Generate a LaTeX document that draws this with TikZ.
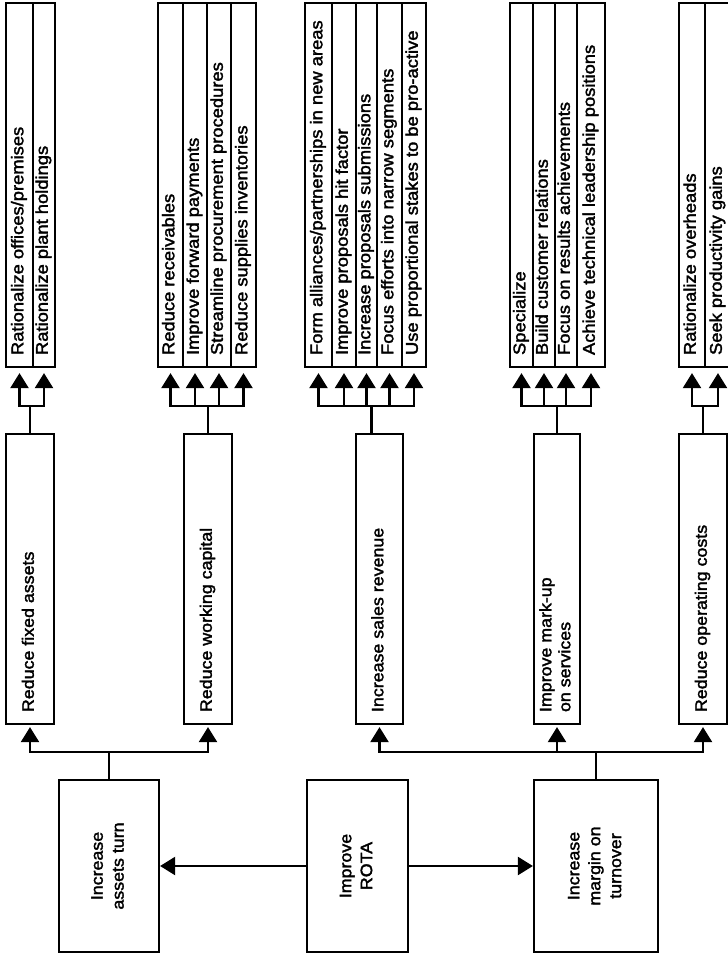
\documentclass[tikz,border=0pt]{standalone}
\usepackage{fontspec}
\setmainfont{Liberation Sans}[FakeStretch=1.08,FakeBold=2]
\usepackage{graphicx}
\usetikzlibrary{arrows.meta}
\newcommand\coltxt[1]{\rotatebox{90}{\fontsize{17}{19}\selectfont\makebox[340pt][l]{\strut #1}}}
\newcommand\midtxt[1]{\rotatebox{90}{\parbox{266pt}{\raggedright\strut #1\strut}}}
\newcommand\maintxt[1]{\rotatebox{90}{\def\arraystretch{1.1}\begin{tabular}{@{}c@{}}#1\end{tabular}}}
\begin{document}
\begin{tikzpicture}[x=1pt,y=-1pt,
  bx/.style={draw,line width=2.2pt,inner sep=0pt,minimum width=#1},
  mainbox/.style={bx=#1,minimum height=172pt},
  midbox/.style={bx=#1,minimum height=290pt},
  colbox/.style={bx=#1,minimum height=364pt},
  ln/.style={line width=2.2pt},
  arr/.style={ln,-{Triangle[length=15pt,width=18pt]}},
  every node/.style={font=\fontsize{16.5}{19}\selectfont}]
\fill[white] (0,0) rectangle (728,956);
\useasboundingbox (0,0) rectangle (728,956);
\clip (0,0) rectangle (728,956);

% main boxes
\node[mainbox=100pt] (assets) at (109,866) {\maintxt{Increase\\assets turn}};
\node[mainbox=101pt] (rota) at (357.5,866) {\maintxt{Improve\\ROTA}};
\node[mainbox=124pt] (margin) at (596,866) {\maintxt{Increase\\margin on\\turnover}};

% middle boxes
\node[midbox=48pt] (fixed) at (30,579) {\midtxt{Reduce fixed assets}};
\node[midbox=48pt] (working) at (208,579) {\midtxt{Reduce working capital}};
\node[midbox=47pt] (sales) at (379.5,579) {\midtxt{Increase sales revenue}};
\node[midbox=46pt] (markup) at (557,579) {\midtxt{Improve mark-up\\on services}};
\node[midbox=48pt] (opcost) at (703,579) {\midtxt{Reduce operating costs}};

% list columns
\node[colbox=27pt] (a1) at (19.5,185) {\coltxt{Rationalize offices/premises}};
\node[colbox=22pt] (a2) at (44,185) {\coltxt{Rationalize plant holdings}};

\node[colbox=25pt] (b1) at (170.5,185) {\coltxt{Reduce receivables}};
\node[colbox=24pt] (b2) at (195,185) {\coltxt{Improve forward payments}};
\node[colbox=24pt] (b3) at (219,185) {\coltxt{Streamline procurement procedures}};
\node[colbox=25pt] (b4) at (243.5,185) {\coltxt{Reduce supplies inventories}};

\node[colbox=27pt] (s1) at (318.5,185) {\coltxt{Form alliances/partnerships in new areas}};
\node[colbox=24pt] (s2) at (344,185) {\coltxt{Improve proposals hit factor}};
\node[colbox=21pt] (s3) at (366.5,185) {\coltxt{Increase proposals submissions}};
\node[colbox=25pt] (s4) at (389.5,185) {\coltxt{Focus efforts into narrow segments}};
\node[colbox=24pt] (s5) at (414,185) {\coltxt{Use proportional stakes to be pro-active}};

\node[colbox=23pt] (m1) at (521.5,185) {\coltxt{Specialize}};
\node[colbox=22pt] (m2) at (544,185) {\coltxt{Build customer relations}};
\node[colbox=22pt] (m3) at (566,185) {\coltxt{Focus on results achievements}};
\node[colbox=28pt] (m4) at (591,185) {\coltxt{Achieve technical leadership positions}};

\node[colbox=26pt] (o1) at (692,185) {\coltxt{Rationalize overheads}};
\node[colbox=26pt] (o2) at (718,185) {\coltxt{Seek productivity gains}};

% connectors
\draw[arr] (rota.west) -- (assets.east);
\draw[arr] (rota.east) -- (margin.west);

\draw[ln] (assets.north) -- ++(0,-27) coordinate (ja);
\foreach \t in {fixed,working} \draw[arr,shorten >=2pt] (ja) -| (\t.south);
\draw[ln] (margin.north) -- ++(0,-27) coordinate (jm);
\foreach \t in {sales,markup,opcost} \draw[arr,shorten >=2pt] (jm) -| (\t.south);

\draw[ln] (fixed.north) -- ++(0,-27) coordinate (jf);
\foreach \t in {a1,a2} \draw[arr,shorten >=5pt] (jf) -| (\t.south);
\draw[ln] (working.north) -- ++(0,-27) coordinate (jw);
\foreach \t in {b1,b2,b3,b4} \draw[arr,shorten >=5pt] (jw) -| (\t.south);
\draw[ln] ([xshift=-8pt]sales.north) -- ++(0,-27) coordinate (js);
\foreach \t in {s1,s2,s3,s4,s5} \draw[arr,shorten >=5pt] (js) -| (\t.south);
\draw[ln] (markup.north) -- ++(0,-27) coordinate (jk);
\foreach \t in {m1,m2,m3,m4} \draw[arr,shorten >=5pt] (jk) -| (\t.south);
\draw[ln] (opcost.north) -- ++(0,-27) coordinate (jo);
\foreach \t in {o1,o2} \draw[arr,shorten >=5pt] (jo) -| (\t.south);
\end{tikzpicture}
\end{document}
